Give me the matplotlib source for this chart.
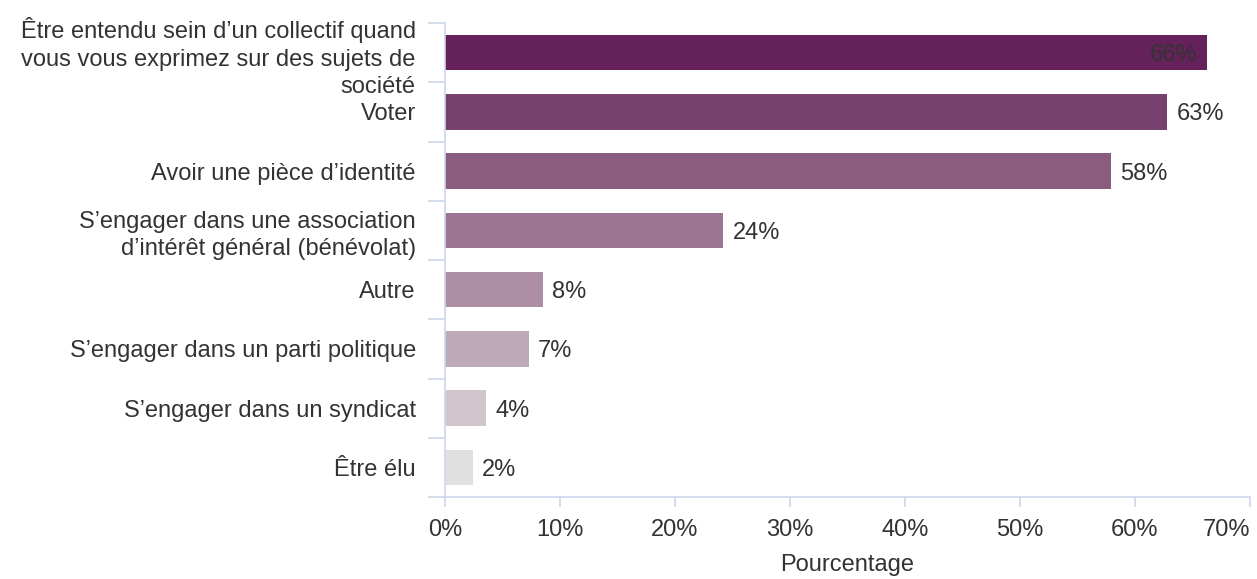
import numpy as np
import matplotlib.pyplot as plt
from matplotlib.ticker import FixedLocator, PercentFormatter

plt.rcParams['font.family'] = ['Liberation Sans', 'DejaVu Sans']

# Data
categories = [
    "Être entendu sein d’un collectif quand\nvous vous exprimez sur des sujets de\nsociété",
    "Voter",
    "Avoir une pièce d’identité",
    "S’engager dans une association\nd’intérêt général (bénévolat)",
    "Autre",
    "S’engager dans un parti politique",
    "S’engager dans un syndicat",
    "Être élu",
]
values = [66.3, 62.8, 57.9, 24.2, 8.5, 7.3, 3.6, 2.4]
labels = ["66%", "63%", "58%", "24%", "8%", "7%", "4%", "2%"]
colors = ["#65215a", "#77416d", "#8a5c7f", "#9b7592",
          "#ad8fa5", "#bea9b9", "#d0c4cd", "#e0e0e0"]

axis_col = "#ccd6eb"
text_col = "#333333"
fs = 17

fig = plt.figure(figsize=(12.57, 5.79), dpi=100)
ax = fig.add_axes([445 / 1257, 1 - 497 / 579, (1250 - 445) / 1257, (497 - 23) / 579])

y = np.arange(len(categories))
ax.barh(y, values, height=0.6, color=colors)

# Data labels
for i, (v, lab) in enumerate(zip(values, labels)):
    if v > 65:
        ax.text(v - 0.9, i, lab, ha='right', va='center_baseline', fontsize=fs, color=text_col)
    else:
        ax.text(v + 0.8, i, lab, ha='left', va='center_baseline', fontsize=fs, color=text_col)

ax.set_ylim(len(categories) - 0.5, -0.5)
ax.set_xlim(0, 70)

ax.set_yticks(y)
ax.set_yticklabels(categories, fontsize=fs, color=text_col, linespacing=1.32)
ax.yaxis.set_minor_locator(FixedLocator(np.arange(-0.5, len(categories), 1)))
ax.tick_params(axis='y', which='major', length=0, pad=21)
ax.tick_params(axis='y', which='minor', length=12.5, width=1.2, color=axis_col)

ax.set_xticks(np.arange(0, 71, 10))
ax.xaxis.set_major_formatter(PercentFormatter(decimals=0))
ax.tick_params(axis='x', length=7.5, width=1.2, color=axis_col, pad=8,
               labelsize=fs, labelcolor=text_col)
ax.get_xticklabels()[-1].set_horizontalalignment('right')
ax.set_xlabel("Pourcentage", fontsize=fs, color=text_col, labelpad=10)

for s in ['top', 'right']:
    ax.spines[s].set_visible(False)
for s in ['left', 'bottom']:
    ax.spines[s].set_color(axis_col)
    ax.spines[s].set_linewidth(1.2)

fig.savefig("out.png", dpi=100)
